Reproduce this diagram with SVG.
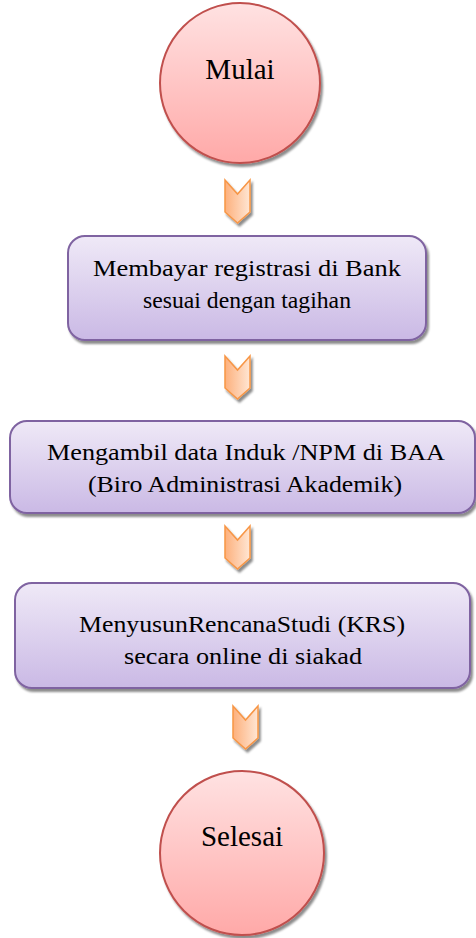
<svg xmlns="http://www.w3.org/2000/svg" width="476" height="938" viewBox="0 0 476 938">
<defs>
<linearGradient id="gCircle" x1="0" y1="0" x2="0" y2="1">
<stop offset="0" stop-color="#ffe2e2"/>
<stop offset="1" stop-color="#ffa9a8"/>
</linearGradient>
<linearGradient id="gBox" x1="0" y1="0" x2="0" y2="1">
<stop offset="0" stop-color="#efe9f7"/>
<stop offset="1" stop-color="#cab9e5"/>
</linearGradient>
<linearGradient id="gArrow" x1="0" y1="0" x2="1" y2="0">
<stop offset="0" stop-color="#fdb07c"/>
<stop offset="1" stop-color="#ffe6d4"/>
</linearGradient>
<filter id="shadow" x="-10%" y="-10%" width="130%" height="130%">
<feDropShadow dx="2" dy="3" stdDeviation="1" flood-color="#000" flood-opacity="0.45"/>
</filter>
<polygon id="chev" points="-12.5,0 0,14 12.5,0 12.5,32 0,43 -12.5,32"/>
</defs>
<style>
.circle{fill:url(#gCircle);stroke:#c0504d;stroke-width:2;filter:url(#shadow)}
.box{fill:url(#gBox);stroke:#7f63a1;stroke-width:2;filter:url(#shadow)}
.arrow{fill:url(#gArrow);stroke:#f79646;stroke-width:1.5;stroke-linejoin:miter;filter:url(#shadow)}
.t{fill:#000;text-anchor:middle;font-family:"Liberation Serif",Tinos,"Nimbus Roman","Nimbus Roman No9 L","Noto Serif","FreeSerif","DejaVu Serif",Times,serif}
.big{font-size:29px}
.norm{font-size:24px}
</style>

<g id="connectors">
<use href="#chev" class="arrow" x="237.5" y="180"/>
<use href="#chev" class="arrow" x="237.5" y="356"/>
<use href="#chev" class="arrow" x="237.5" y="526"/>
<use href="#chev" class="arrow" x="245.5" y="706"/>
</g>

<g id="start">
<circle class="circle" cx="240" cy="83" r="80"/>
<text class="t big" x="240" y="79">Mulai</text>
</g>

<g id="step1">
<rect class="box" x="68" y="236" width="358" height="104" rx="17"/>
<text class="t norm" x="247" y="276" textLength="308" lengthAdjust="spacingAndGlyphs">Membayar registrasi di Bank</text>
<text class="t norm" x="247" y="308" textLength="208" lengthAdjust="spacingAndGlyphs">sesuai dengan tagihan</text>
</g>

<g id="step2">
<rect class="box" x="10" y="421" width="465" height="92" rx="17"/>
<text class="t norm" x="246" y="460" textLength="398" lengthAdjust="spacingAndGlyphs">Mengambil data Induk /NPM di BAA</text>
<text class="t norm" x="245" y="492" textLength="314" lengthAdjust="spacingAndGlyphs">(Biro Administrasi Akademik)</text>
</g>

<g id="step3">
<rect class="box" x="15" y="583" width="455" height="105" rx="17"/>
<text class="t norm" x="242" y="632" textLength="326" lengthAdjust="spacingAndGlyphs">MenyusunRencanaStudi (KRS)</text>
<text class="t norm" x="243" y="664" textLength="238" lengthAdjust="spacingAndGlyphs">secara online di siakad</text>
</g>

<g id="end">
<circle class="circle" cx="242" cy="853" r="82"/>
<text class="t big" x="242" y="846">Selesai</text>
</g>
</svg>
